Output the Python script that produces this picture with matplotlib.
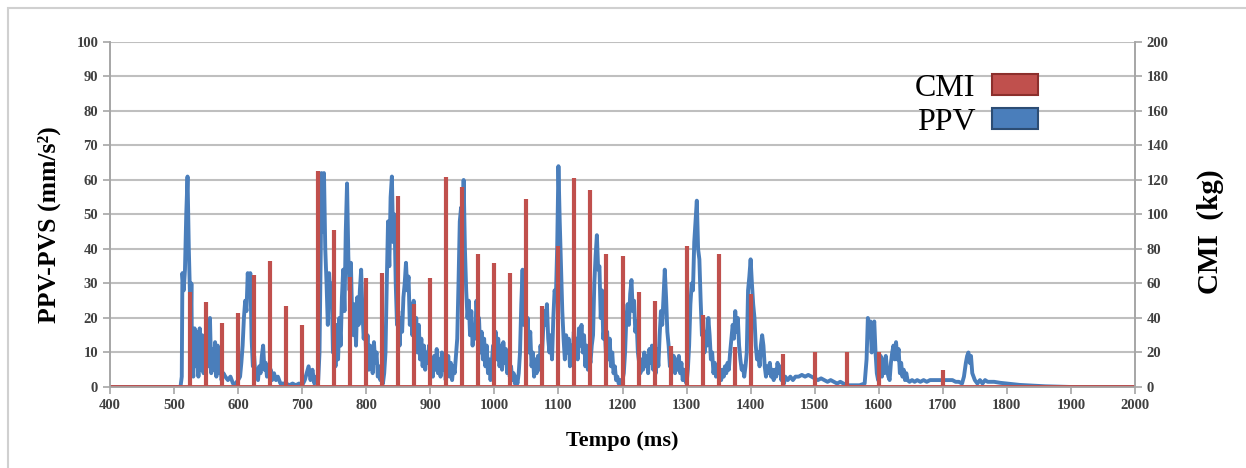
import matplotlib
matplotlib.use("Agg")
import matplotlib.pyplot as plt
from matplotlib.patches import Patch, Rectangle

plt.rcParams['font.family'] = ['Liberation Serif', 'DejaVu Serif']

# CMI (kg) - cargas por retardo
cmi_t = [525, 550, 575, 600, 625, 650, 675, 700, 725, 750, 775, 800, 825, 850, 875, 900,
         925, 950, 975, 1000, 1025, 1050, 1075, 1100, 1125, 1150, 1175, 1200, 1225, 1250,
         1275, 1300, 1325, 1350, 1375, 1400, 1450, 1500, 1550, 1600, 1700]
cmi_v = [55, 49, 37, 43, 65, 73, 47, 36, 125, 91, 64, 63, 66, 111, 48, 63,
         122, 116, 77, 72, 66, 109, 47, 82, 121, 114, 77, 76, 55, 50,
         24, 82, 42, 77, 23, 54, 19, 20, 20, 20, 10]

# PPV (mm/s2) - registro
ppv_t = [400, 510, 512, 513, 515, 517, 519, 521, 523, 524, 526, 527, 528, 530, 532, 534, 536, 538,
         540, 542, 544, 546, 548, 550, 552, 554, 556, 558, 560, 562, 564, 566, 568, 570, 572, 574,
         577, 580, 584, 588, 592, 596, 600, 603, 605, 607, 609, 611, 613, 615, 617, 619, 621, 623,
         625, 627, 629, 631, 633, 635, 637, 639, 641, 643, 645, 647, 649, 651, 653, 656, 659, 662,
         666, 670, 675, 680, 685, 690, 695, 700, 704, 707, 710, 713, 716, 719, 722, 725, 727, 729,
         730, 732, 734, 736, 738, 740, 742, 744, 746, 748, 750, 752, 754, 756, 758, 760, 762, 764,
         766, 768, 770, 772, 774, 776, 778, 780, 782, 784, 786, 788, 790, 792, 794, 796, 798, 800,
         802, 804, 806, 808, 810, 812, 814, 816, 818, 820, 822, 824, 826, 828, 830, 832, 834, 836,
         838, 840, 842, 844, 846, 848, 850, 852, 854, 856, 858, 860, 862, 864, 866, 868, 870, 872,
         874, 876, 878, 880, 882, 884, 886, 888, 890, 892, 894, 896, 898, 900, 902, 904, 906, 908,
         910, 912, 914, 916, 918, 920, 922, 924, 926, 928, 930, 932, 934, 936, 938, 940, 942, 944,
         946, 948, 950, 952, 954, 956, 958, 960, 962, 964, 966, 968, 970, 972, 974, 976, 978, 980,
         982, 984, 986, 988, 990, 992, 994, 996, 998, 1000, 1002, 1004, 1006, 1008, 1010, 1012, 1014, 1016,
         1018, 1020, 1022, 1024, 1026, 1028, 1030, 1032, 1034, 1036, 1038, 1040, 1042, 1044, 1046, 1048, 1050, 1052,
         1054, 1056, 1058, 1060, 1062, 1064, 1066, 1068, 1070, 1072, 1074, 1076, 1078, 1080, 1082, 1084, 1086, 1088,
         1090, 1092, 1094, 1096, 1098, 1100, 1102, 1104, 1106, 1108, 1110, 1112, 1114, 1116, 1118, 1120, 1122, 1124,
         1126, 1128, 1130, 1132, 1134, 1136, 1138, 1140, 1142, 1144, 1146, 1148, 1150, 1152, 1154, 1156, 1158, 1160,
         1162, 1164, 1166, 1168, 1170, 1172, 1174, 1176, 1178, 1180, 1182, 1184, 1186, 1188, 1190, 1192, 1194, 1196,
         1198, 1200, 1202, 1204, 1206, 1208, 1210, 1212, 1214, 1216, 1218, 1220, 1222, 1224, 1226, 1228, 1230, 1232,
         1234, 1236, 1238, 1240, 1242, 1244, 1246, 1248, 1250, 1252, 1254, 1256, 1258, 1260, 1262, 1264, 1266, 1268,
         1270, 1272, 1274, 1276, 1278, 1280, 1282, 1284, 1286, 1288, 1290, 1292, 1294, 1296, 1298, 1300, 1302, 1304,
         1306, 1308, 1310, 1312, 1314, 1316, 1318, 1320, 1322, 1324, 1326, 1328, 1330, 1332, 1334, 1336, 1338, 1340,
         1342, 1344, 1346, 1348, 1350, 1352, 1354, 1356, 1358, 1360, 1362, 1364, 1366, 1368, 1370, 1372, 1374, 1376,
         1378, 1380, 1382, 1384, 1386, 1388, 1390, 1392, 1394, 1396, 1398, 1400, 1402, 1404, 1406, 1408, 1410, 1412,
         1414, 1416, 1418, 1420, 1422, 1424, 1426, 1428, 1430, 1432, 1434, 1436, 1438, 1440, 1442, 1444, 1446, 1448,
         1450, 1452, 1454, 1458, 1462, 1466, 1470, 1475, 1480, 1485, 1490, 1495, 1500, 1505, 1510, 1515, 1520, 1525,
         1530, 1535, 1540, 1545, 1550, 1560, 1570, 1578, 1581, 1583, 1585, 1587, 1589, 1591, 1593, 1595, 1597, 1599,
         1601, 1603, 1605, 1607, 1609, 1611, 1613, 1615, 1617, 1619, 1621, 1623, 1625, 1627, 1629, 1631, 1633, 1635,
         1637, 1639, 1641, 1643, 1645, 1648, 1652, 1656, 1660, 1665, 1670, 1675, 1680, 1685, 1690, 1695, 1700, 1705,
         1710, 1715, 1720, 1725, 1730, 1733, 1736, 1738, 1740, 1742, 1744, 1746, 1748, 1750, 1754, 1758, 1762, 1766,
         1770, 1775, 1780, 1790, 1800, 1810, 1820, 1830, 1840, 1850, 1860, 1880, 1900, 2000]
ppv_v = [0, 0, 3, 33, 28, 34, 50, 61, 40, 33, 18, 30, 8, 3, 17, 6, 16, 3,
         17, 5, 15, 4, 12, 5, 14, 6, 20, 4, 11, 5, 13, 3, 12, 4, 8, 2,
         4, 3, 2, 3, 1, 1, 2, 3, 7, 12, 20, 25, 22, 33, 27, 33, 14, 6,
         9, 3, 5, 2, 6, 4, 9, 12, 5, 7, 3, 6, 3, 5, 2, 4, 2, 3,
         1, 1, 1, 0.5, 1, 0.5, 1, 0.5, 2, 4, 6, 2, 5, 1, 3, 2, 10, 40,
         62, 45, 62, 40, 30, 18, 33, 26, 30, 10, 16, 6, 18, 8, 20, 12, 26, 34,
         22, 45, 59, 38, 28, 36, 20, 15, 24, 12, 26, 18, 28, 34, 22, 14, 20, 8,
         15, 5, 12, 10, 4, 13, 7, 10, 3, 6, 2, 5, 1, 4, 10, 30, 48, 35,
         55, 61, 42, 50, 30, 18, 22, 12, 20, 16, 26, 30, 36, 28, 32, 18, 24, 15,
         25, 12, 20, 10, 18, 8, 14, 6, 12, 5, 10, 7, 12, 4, 8, 3, 9, 5,
         11, 4, 8, 3, 10, 5, 8, 2, 6, 9, 3, 7, 2, 6, 4, 9, 14, 30,
         48, 52, 45, 60, 40, 28, 20, 25, 15, 22, 12, 18, 14, 25, 18, 20, 10, 16,
         8, 14, 6, 12, 4, 8, 2, 7, 12, 10, 16, 8, 14, 6, 12, 5, 13, 7,
         11, 4, 9, 3, 6, 2, 4, 1, 3, 1, 4, 10, 24, 34, 18, 22, 14, 20,
         10, 16, 6, 10, 3, 8, 4, 9, 5, 12, 8, 16, 22, 18, 24, 14, 10, 15,
         8, 20, 28, 26, 40, 64, 48, 35, 22, 14, 8, 15, 10, 14, 6, 12, 8, 16,
         10, 14, 8, 17, 12, 18, 10, 15, 6, 12, 5, 10, 7, 12, 15, 30, 38, 44,
         34, 35, 20, 28, 14, 18, 10, 16, 8, 14, 6, 10, 4, 6, 2, 3, 1, 2,
         1, 2, 4, 10, 20, 24, 18, 27, 31, 22, 25, 16, 19, 10, 7, 4, 8, 5,
         10, 6, 9, 4, 11, 7, 12, 5, 9, 4, 11, 6, 15, 22, 18, 26, 34, 26,
         16, 12, 6, 10, 5, 9, 4, 8, 5, 9, 4, 7, 2, 5, 2, 1, 5, 12,
         24, 30, 28, 42, 48, 54, 40, 37, 25, 15, 20, 10, 16, 12, 20, 15, 8, 10,
         4, 7, 3, 6, 3, 5, 2, 5, 3, 6, 4, 7, 5, 10, 14, 18, 14, 22,
         16, 20, 12, 8, 5, 6, 3, 6, 10, 28, 32, 37, 30, 24, 20, 12, 8, 10,
         6, 12, 15, 12, 6, 3, 6, 4, 7, 3, 5, 2, 5, 3, 7, 4, 6, 2,
         4, 1, 3, 2, 3, 2, 3, 3, 3.5, 3, 3.5, 3, 2.5, 2, 2.5, 2, 1.5, 2,
         1.5, 1, 1.5, 1, 0.5, 0.5, 0.5, 1, 8, 20, 17, 19, 10, 16, 19, 10, 4, 2,
         5, 9, 3, 8, 4, 9, 5, 3, 2, 7, 10, 12, 8, 13, 8, 11, 4, 7,
         3, 5, 2, 4, 2, 1.5, 2, 1.5, 2, 1.5, 2, 1.5, 2, 2, 2, 2, 2, 2,
         2, 2, 1.5, 1.5, 1, 3, 7, 9, 10, 7, 9, 4, 3, 2, 1, 2, 1, 2,
         1.5, 1.5, 1.5, 1.2, 1.0, 0.8, 0.6, 0.5, 0.4, 0.3, 0.2, 0.1, 0, 0]

x_ticks = list(range(400, 2001, 100))
ppv_ticks = list(range(0, 101, 10))
cmi_ticks = list(range(0, 201, 20))

red = '#c0504d'
blue = '#4a7ebb'
tick_color = '#404040'

fig = plt.figure(figsize=(12.46, 4.68), dpi=100)
ax = fig.add_axes([0.0883, 0.1731, 0.8226, 0.7372])
ax2 = ax.twinx()

# moldura da imagem
fig.add_artist(Rectangle((0.0065, -0.05), 1.1, 1.033, transform=fig.transFigure,
                         fill=False, edgecolor='#d0d0d0', lw=1.5))

ax.plot(ppv_t, ppv_v, color=blue, lw=2.8, solid_joinstyle='round')
ax2.vlines(cmi_t, 0, cmi_v, color=red, lw=3)
ax2.axhline(0, color=red, lw=2.8)

ax.set_xlim(400, 2000)
ax.set_ylim(0, 100)
ax2.set_ylim(0, 200)
ax.set_xticks(x_ticks)
ax.set_yticks(ppv_ticks)
ax2.set_yticks(cmi_ticks)

ax.grid(axis='y', color='#bfbfbf', lw=1.5)
ax.set_axisbelow(True)

for a in (ax, ax2):
    a.spines['top'].set_visible(False)
    for s in ('left', 'right', 'bottom'):
        a.spines[s].set_color('#a6a6a6')
        a.spines[s].set_linewidth(1.2)
    a.tick_params(colors='#a6a6a6', labelcolor=tick_color, labelsize=10.5, length=5, width=1.2)
    for lab in a.get_xticklabels() + a.get_yticklabels():
        lab.set_fontweight('bold')

ax.set_xlabel('Tempo (ms)', fontsize=16, fontweight='bold', labelpad=14)
ax.set_ylabel('PPV-PVS (mm/s²)', fontsize=18.5, fontweight='bold')
ax2.set_ylabel('CMI  (kg)', fontsize=21, fontweight='bold')
ax.yaxis.set_label_coords(-0.048, 0.47)
ax2.yaxis.set_label_coords(1.06, 0.45)

handles = [Patch(facecolor=red, edgecolor='#8c2f2c', lw=1.5, label='CMI'),
           Patch(facecolor=blue, edgecolor='#2c4d74', lw=1.5, label='PPV')]
ax2.legend(handles=handles, loc='upper right', bbox_to_anchor=(1038 / 1246, 1 - 74 / 468),
           bbox_transform=fig.transFigure, frameon=False, markerfirst=False,
           fontsize=23, handlelength=1.45, handleheight=0.62, handletextpad=0.5,
           labelspacing=0.15, borderpad=0, borderaxespad=0)

fig.savefig('out.png', dpi=100)
